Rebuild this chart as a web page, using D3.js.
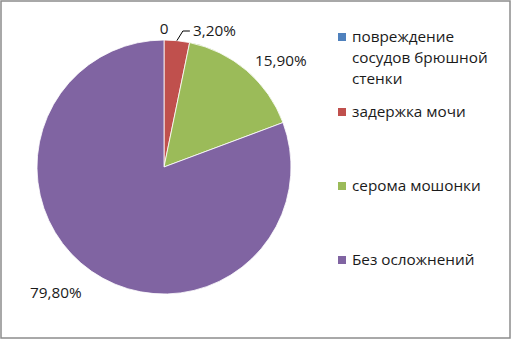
<!DOCTYPE html>
<html>
<head>
<meta charset="utf-8">
<script src="https://cdn.jsdelivr.net/npm/d3@7"></script>
<style>
  body { margin: 0; background: #fff; }
  svg text { font-family: "Open Sans", "DejaVu Sans", sans-serif; fill: #1a1a1a; }
</style>
</head>
<body>
<div id="chart"></div>
<script>
// données du graphique
const categories = ['повреждение сосудов брюшной стенки', 'задержка мочи', 'серома мошонки', 'Без осложнений'];
const values = [0, 3.2, 15.9, 79.8];
const labels = ['0', '3,20%', '15,90%', '79,80%'];
const legendLines = [['повреждение', 'сосудов брюшной', 'стенки'], ['задержка мочи'], ['серома мошонки'], ['Без осложнений']];
const colors = ['#4F81BD', '#C0504D', '#9BBB59', '#8064A2'];

const width = 512, height = 340;
const cx = 164, cy = 167, radius = 127;
const fontSize = 15.3;

let svg = d3.select('#chart').append('svg')
    .attr('width', width)
    .attr('height', height);

// cadre
svg.append('rect')
    .attr('x', 1).attr('y', 1)
    .attr('width', width - 3).attr('height', height - 3)
    .attr('fill', '#fff')
    .attr('stroke', '#8c8c8c')
    .attr('stroke-width', 1.5);

let pie = d3.pie().sort(null).value(d => d);
let arcs = pie(values);
let arc = d3.arc().innerRadius(0).outerRadius(radius);

let g = svg.append('g').attr('transform', `translate(${cx},${cy})`);

g.selectAll('.slice')
    .data(arcs)
    .enter()
    .append('path')
    .attr('class', 'slice')
    .attr('d', arc)
    .attr('fill', (d, i) => colors[i])
    .attr('stroke', '#fff')
    .attr('stroke-width', 0.8);

// positions des étiquettes (relatives au centre)
const labelPos = [
    { x: 0, y: -133, anchor: 'middle' },
    { x: 29, y: -131, anchor: 'start' },
    { x: 91, y: -101, anchor: 'start' },
    { x: -134, y: 131, anchor: 'start' }
];

g.selectAll('.lbl')
    .data(arcs)
    .enter()
    .append('text')
    .attr('class', 'lbl')
    .attr('x', (d, i) => labelPos[i].x)
    .attr('y', (d, i) => labelPos[i].y)
    .attr('text-anchor', (d, i) => labelPos[i].anchor)
    .attr('font-size', fontSize)
    .text((d, i) => labels[i]);

// ligne de rappel pour 3,20%
let mid = (arcs[1].startAngle + arcs[1].endAngle) / 2;
let p0 = [Math.sin(mid) * radius, -Math.cos(mid) * radius];
g.append('polyline')
    .attr('points', [p0, [p0[0] + 6, -136], [p0[0] + 13, -136]].map(p => p.join(',')).join(' '))
    .attr('fill', 'none')
    .attr('stroke', '#000')
    .attr('stroke-width', 1);

// légende
const legendY = [42, 117, 191, 265];
const lineGap = 21;
let legend = svg.append('g');
legendLines.forEach((lines, i) => {
    legend.append('rect')
        .attr('x', 338).attr('y', legendY[i] - 9)
        .attr('width', 8).attr('height', 8)
        .attr('fill', colors[i]);
    lines.forEach((t, j) => {
        legend.append('text')
            .attr('x', 352)
            .attr('y', legendY[i] + j * lineGap)
            .attr('font-size', fontSize)
            .text(t);
    });
});
</script>
</body>
</html>
